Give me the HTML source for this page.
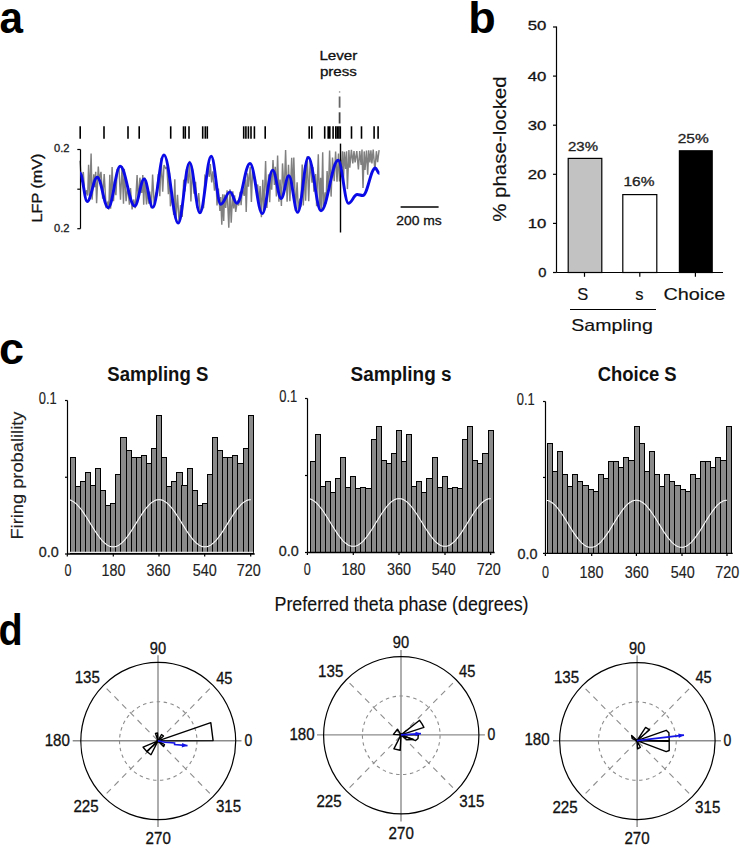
<!DOCTYPE html>
<html><head><meta charset="utf-8"><style>
html,body{margin:0;padding:0;background:#fff;}
body{width:740px;height:845px;overflow:hidden;}
svg{display:block;font-family:"Liberation Sans", sans-serif;}
</style></head><body>
<svg width="740" height="845" viewBox="0 0 740 845">
<rect width="740" height="845" fill="#fff"/>
<text x="-0.6" y="32.8" font-size="45" text-anchor="start" fill="#000" font-weight="bold" textLength="23.5" lengthAdjust="spacingAndGlyphs" >a</text>
<text x="468.2" y="32.8" font-size="45" text-anchor="start" fill="#000" font-weight="bold" >b</text>
<text x="-1.1" y="363.8" font-size="45" text-anchor="start" fill="#000" font-weight="bold" >c</text>
<text x="-1.4" y="644.9" font-size="45" text-anchor="start" fill="#000" font-weight="bold" textLength="24.2" lengthAdjust="spacingAndGlyphs" >d</text>
<line x1="80.20" y1="126.30" x2="80.20" y2="138.70" stroke="#000" stroke-width="1.6" />
<line x1="104.00" y1="126.30" x2="104.00" y2="138.70" stroke="#000" stroke-width="1.6" />
<line x1="128.00" y1="126.30" x2="128.00" y2="138.70" stroke="#000" stroke-width="1.6" />
<line x1="139.20" y1="126.30" x2="139.20" y2="138.70" stroke="#000" stroke-width="1.6" />
<line x1="170.70" y1="126.30" x2="170.70" y2="138.70" stroke="#000" stroke-width="1.6" />
<line x1="183.50" y1="126.30" x2="183.50" y2="138.70" stroke="#000" stroke-width="1.6" />
<line x1="185.30" y1="126.30" x2="185.30" y2="138.70" stroke="#000" stroke-width="1.6" />
<line x1="189.00" y1="126.30" x2="189.00" y2="138.70" stroke="#000" stroke-width="1.6" />
<line x1="202.70" y1="126.30" x2="202.70" y2="138.70" stroke="#000" stroke-width="1.6" />
<line x1="205.30" y1="126.30" x2="205.30" y2="138.70" stroke="#000" stroke-width="1.6" />
<line x1="207.30" y1="126.30" x2="207.30" y2="138.70" stroke="#000" stroke-width="1.6" />
<line x1="243.70" y1="126.30" x2="243.70" y2="138.70" stroke="#000" stroke-width="1.6" />
<line x1="245.90" y1="126.30" x2="245.90" y2="138.70" stroke="#000" stroke-width="1.6" />
<line x1="248.40" y1="126.30" x2="248.40" y2="138.70" stroke="#000" stroke-width="1.6" />
<line x1="251.00" y1="126.30" x2="251.00" y2="138.70" stroke="#000" stroke-width="1.6" />
<line x1="254.40" y1="126.30" x2="254.40" y2="138.70" stroke="#000" stroke-width="1.6" />
<line x1="265.20" y1="126.30" x2="265.20" y2="138.70" stroke="#000" stroke-width="1.6" />
<line x1="309.20" y1="126.30" x2="309.20" y2="138.70" stroke="#000" stroke-width="1.6" />
<line x1="311.80" y1="126.30" x2="311.80" y2="138.70" stroke="#000" stroke-width="1.6" />
<line x1="324.70" y1="126.30" x2="324.70" y2="138.70" stroke="#000" stroke-width="1.6" />
<line x1="328.20" y1="126.30" x2="328.20" y2="138.70" stroke="#000" stroke-width="1.6" />
<line x1="329.80" y1="126.30" x2="329.80" y2="138.70" stroke="#000" stroke-width="1.6" />
<line x1="333.10" y1="126.30" x2="333.10" y2="138.70" stroke="#000" stroke-width="1.6" />
<line x1="335.80" y1="126.30" x2="335.80" y2="138.70" stroke="#000" stroke-width="1.6" />
<line x1="337.30" y1="126.30" x2="337.30" y2="138.70" stroke="#000" stroke-width="1.6" />
<line x1="338.90" y1="126.30" x2="338.90" y2="138.70" stroke="#000" stroke-width="1.6" />
<line x1="340.30" y1="126.30" x2="340.30" y2="138.70" stroke="#000" stroke-width="1.6" />
<line x1="351.50" y1="126.30" x2="351.50" y2="138.70" stroke="#000" stroke-width="1.6" />
<line x1="361.50" y1="126.30" x2="361.50" y2="138.70" stroke="#000" stroke-width="1.6" />
<line x1="374.10" y1="126.30" x2="374.10" y2="138.70" stroke="#000" stroke-width="1.6" />
<line x1="378.10" y1="126.30" x2="378.10" y2="138.70" stroke="#000" stroke-width="1.6" />
<path d="M80.0,160.8 L81.5,182.1 L83.3,172.0 L85.0,197.5 L86.3,190.3 L87.7,195.5 L88.6,164.7 L89.7,198.3 L91.1,153.4 L92.1,199.6 L93.8,174.2 L94.7,187.2 L95.7,171.8 L96.6,203.2 L98.3,166.5 L99.3,180.1 L101.0,171.8 L102.7,198.7 L104.2,174.1 L106.0,206.0 L107.7,202.6 L108.8,209.6 L109.8,174.7 L110.6,208.7 L112.1,167.0 L113.5,201.3 L114.6,181.4 L115.9,195.3 L117.2,169.9 L118.1,170.1 L118.9,166.4 L120.5,199.7 L122.1,166.4 L123.5,203.7 L124.3,168.9 L126.1,201.1 L127.7,186.1 L129.4,204.8 L130.5,188.1 L132.1,209.5 L133.7,199.5 L135.3,208.1 L137.1,175.0 L138.2,200.9 L139.9,177.7 L141.7,193.0 L142.8,175.1 L143.7,204.8 L144.7,177.7 L146.5,204.5 L147.3,187.3 L148.7,203.7 L149.7,191.5 L151.3,208.1 L152.6,174.5 L154.3,206.7 L155.6,194.7 L156.5,196.8 L158.3,174.1 L159.8,196.2 L161.1,157.8 L162.7,191.7 L164.0,165.0 L165.6,168.4 L166.9,167.4 L168.4,194.3 L169.5,172.7 L170.4,206.3 L172.2,196.8 L173.7,215.0 L174.8,179.3 L175.9,220.0 L177.5,194.9 L179.1,222.5 L180.6,205.1 L182.2,216.9 L183.7,179.7 L185.0,191.5 L186.5,169.0 L188.2,183.5 L189.6,160.9 L190.9,201.5 L192.4,168.5 L194.0,193.6 L195.6,181.9 L197.1,207.9 L198.7,193.1 L200.3,213.6 L201.8,208.3 L203.6,207.6 L204.9,176.1 L206.5,178.7 L207.8,168.3 L209.3,176.8 L210.3,164.1 L211.7,182.5 L212.9,171.4 L214.5,190.7 L216.0,178.2 L217.0,205.5 L218.4,188.5 L219.9,211.0 L220.7,197.1 L221.8,224.7 L222.7,194.2 L223.7,221.0 L224.5,194.5 L225.7,208.0 L227.1,190.3 L228.8,227.7 L230.0,189.3 L231.2,222.7 L232.8,191.3 L233.7,208.5 L234.6,195.2 L235.7,211.9 L237.5,200.5 L238.7,205.5 L240.1,191.7 L241.1,205.3 L242.4,187.7 L244.2,195.9 L245.4,179.3 L246.2,212.0 L247.5,173.3 L248.5,186.7 L250.2,166.8 L251.4,201.9 L252.5,171.4 L253.7,174.9 L255.4,178.6 L256.4,190.9 L257.7,184.5 L258.9,205.0 L260.1,186.1 L261.4,217.1 L262.8,179.8 L263.9,211.4 L265.6,161.1 L266.9,207.9 L268.6,174.3 L269.7,202.2 L270.6,173.6 L271.7,189.7 L273.0,160.0 L274.4,184.9 L275.3,166.8 L276.4,196.4 L277.6,155.4 L278.9,201.7 L280.0,179.5 L281.4,206.0 L282.5,163.4 L284.2,193.8 L285.6,150.0 L287.1,201.8 L288.5,164.9 L289.9,201.1 L291.7,157.7 L292.8,195.9 L293.8,157.5 L295.5,210.9 L297.1,182.2 L298.3,209.8 L299.9,198.5 L300.9,206.8 L302.2,164.6 L303.3,205.4 L304.7,165.5 L305.6,200.7 L307.2,156.3 L308.7,201.2 L310.2,159.9 L312.0,182.7 L312.9,167.1 L313.9,191.8 L315.6,174.1 L316.6,206.3 L318.3,154.2 L319.7,210.6 L320.6,177.8 L321.5,210.1 L322.7,152.3 L323.5,206.1 L325.1,192.4 L326.0,203.8 L327.1,171.0 L328.4,192.1 L329.6,150.4 L331.1,196.6 L332.5,157.5 L334.2,181.1 L335.6,151.5 L337.0,181.6 L338.5,153.6 L339.5,181.5 L340.6,159.7 L341.6,167.6 L342.5,151.2 L343.4,182.7 L344.4,151.7 L345.7,169.0 L346.6,151.3 L347.4,189.1 L348.9,150.1 L349.8,167.7 L351.4,149.8 L352.8,163.4 L354.0,151.0 L355.1,162.4 L356.8,151.1 L358.4,169.5 L359.7,151.0 L361.1,165.0 L362.0,149.6 L363.0,188.0 L364.2,151.4 L365.0,169.9 L366.5,150.6 L367.7,174.8 L368.7,150.4 L369.9,162.5 L370.9,150.2 L371.9,163.4 L373.2,149.6 L374.9,170.4 L376.4,151.2 L377.6,162.2 L379.1,150.2" fill="none" stroke="#808080" stroke-width="1.45"/>
<line x1="80.50" y1="149.50" x2="80.50" y2="228.70" stroke="#000" stroke-width="1.2" />
<line x1="77.30" y1="149.50" x2="80.50" y2="149.50" stroke="#000" stroke-width="1.2" />
<line x1="77.30" y1="189.20" x2="80.50" y2="189.20" stroke="#000" stroke-width="1.2" />
<line x1="77.30" y1="228.70" x2="80.50" y2="228.70" stroke="#000" stroke-width="1.2" />
<text x="69.5" y="152.0" font-size="10.5" text-anchor="end" fill="#222" stroke="#222" stroke-width="0.3" textLength="15.5" lengthAdjust="spacingAndGlyphs" >0.2</text>
<text x="69.5" y="232.3" font-size="10.5" text-anchor="end" fill="#222" stroke="#222" stroke-width="0.3" textLength="15.5" lengthAdjust="spacingAndGlyphs" >0.2</text>
<text x="41.6" y="188.0" font-size="14" text-anchor="middle" fill="#111" stroke="#111" stroke-width="0.3" textLength="69" lengthAdjust="spacingAndGlyphs" transform="rotate(-90 41.6 188.0)" >LFP (mV)</text>
<line x1="339.60" y1="91.20" x2="339.60" y2="92.70" stroke="#999" stroke-width="1.4" />
<line x1="339.60" y1="96.50" x2="339.60" y2="107.70" stroke="#666" stroke-width="1.8" />
<line x1="339.60" y1="112.30" x2="339.60" y2="123.50" stroke="#444" stroke-width="1.8" />
<line x1="340.50" y1="143.60" x2="340.50" y2="232.50" stroke="#000" stroke-width="1.4" />
<path d="M80.0,173.0 C82.7,173.0 84.5,201.5 87.2,201.5 C91.0,201.5 93.4,177.2 97.2,177.2 C101.4,177.2 104.0,207.7 108.2,207.7 C112.8,207.7 115.6,166.3 120.2,166.3 C125.7,166.3 129.2,206.0 134.7,206.0 C138.3,206.0 140.6,179.0 144.2,179.0 C147.4,179.0 149.5,207.4 152.7,207.4 C157.0,207.4 159.7,155.0 164.0,155.0 C169.4,155.0 172.8,223.1 178.2,223.1 C182.5,223.1 185.3,162.6 189.6,162.6 C193.5,162.6 196.0,212.7 199.9,212.7 C204.2,212.7 206.9,156.3 211.2,156.3 C214.8,156.3 217.1,204.2 220.7,204.2 C224.3,204.2 226.5,191.9 230.1,191.9 C232.6,191.9 234.3,203.2 236.8,203.2 C241.8,203.2 245.0,163.5 250.0,163.5 C254.7,163.5 257.6,213.6 262.3,213.6 C266.3,213.6 268.7,170.1 272.7,170.1 C275.9,170.1 278.0,198.5 281.2,198.5 C284.1,198.5 285.9,175.8 288.8,175.8 C292.2,175.8 294.3,212.3 297.7,212.3 C301.7,212.3 304.3,157.5 308.3,157.5 C313.1,157.5 316.2,210.7 321.0,210.7 C327.5,210.7 331.7,160.2 338.2,160.2 C342.1,160.2 344.5,203.3 348.4,203.3 C351.7,203.3 353.9,194.5 357.2,194.5 C359.3,194.5 360.7,195.5 362.8,195.5 C367.6,195.5 370.6,168.0 375.4,168.0 C376.9,168.0 377.9,173.6 379.4,173.6" fill="none" stroke="#0a0ae6" stroke-width="2.9" stroke-linejoin="round"/>
<text x="338.4" y="59.9" font-size="13" text-anchor="middle" fill="#111" stroke="#111" stroke-width="0.3" textLength="38" lengthAdjust="spacingAndGlyphs" >Lever</text>
<text x="338.4" y="75.8" font-size="13" text-anchor="middle" fill="#111" stroke="#111" stroke-width="0.3" textLength="37" lengthAdjust="spacingAndGlyphs" >press</text>
<line x1="400.60" y1="207.00" x2="438.60" y2="207.00" stroke="#000" stroke-width="1.3" />
<text x="419.0" y="224.9" font-size="13.5" text-anchor="middle" fill="#111" stroke="#111" stroke-width="0.3" textLength="45.5" lengthAdjust="spacingAndGlyphs" >200 ms</text>
<line x1="556.50" y1="26.50" x2="556.50" y2="272.50" stroke="#000" stroke-width="1.2" />
<line x1="556.50" y1="272.50" x2="723.00" y2="272.50" stroke="#000" stroke-width="1.2" />
<line x1="553.00" y1="272.50" x2="556.50" y2="272.50" stroke="#000" stroke-width="1.2" />
<text x="546.4" y="277.2" font-size="13.3" text-anchor="end" fill="#111" stroke="#111" stroke-width="0.3" textLength="8.2" lengthAdjust="spacingAndGlyphs" >0</text>
<line x1="553.00" y1="223.40" x2="556.50" y2="223.40" stroke="#000" stroke-width="1.2" />
<text x="546.4" y="228.1" font-size="13.3" text-anchor="end" fill="#111" stroke="#111" stroke-width="0.3" textLength="18.6" lengthAdjust="spacingAndGlyphs" >10</text>
<line x1="553.00" y1="174.30" x2="556.50" y2="174.30" stroke="#000" stroke-width="1.2" />
<text x="546.4" y="179.0" font-size="13.3" text-anchor="end" fill="#111" stroke="#111" stroke-width="0.3" textLength="18.6" lengthAdjust="spacingAndGlyphs" >20</text>
<line x1="553.00" y1="125.20" x2="556.50" y2="125.20" stroke="#000" stroke-width="1.2" />
<text x="546.4" y="129.9" font-size="13.3" text-anchor="end" fill="#111" stroke="#111" stroke-width="0.3" textLength="18.6" lengthAdjust="spacingAndGlyphs" >30</text>
<line x1="553.00" y1="76.10" x2="556.50" y2="76.10" stroke="#000" stroke-width="1.2" />
<text x="546.4" y="80.8" font-size="13.3" text-anchor="end" fill="#111" stroke="#111" stroke-width="0.3" textLength="18.6" lengthAdjust="spacingAndGlyphs" >40</text>
<line x1="553.00" y1="27.00" x2="556.50" y2="27.00" stroke="#000" stroke-width="1.2" />
<text x="546.4" y="29.9" font-size="13.3" text-anchor="end" fill="#111" stroke="#111" stroke-width="0.3" textLength="18.6" lengthAdjust="spacingAndGlyphs" >50</text>
<line x1="584.50" y1="272.50" x2="584.50" y2="276.80" stroke="#000" stroke-width="1.2" />
<line x1="639.80" y1="272.50" x2="639.80" y2="276.80" stroke="#000" stroke-width="1.2" />
<line x1="695.40" y1="272.50" x2="695.40" y2="276.80" stroke="#000" stroke-width="1.2" />
<rect x="568.2" y="158.4" width="33.6" height="114.1" fill="#c2c2c2" stroke="#000" stroke-width="1.2"/>
<rect x="622.8" y="194.6" width="34" height="77.9" fill="#fff" stroke="#000" stroke-width="1.2"/>
<rect x="679.4" y="150.8" width="32.8" height="121.7" fill="#000" stroke="#000" stroke-width="1.2"/>
<text x="583.0" y="150.8" font-size="12.5" text-anchor="middle" fill="#222" stroke="#222" stroke-width="0.3" textLength="30" lengthAdjust="spacingAndGlyphs" >23%</text>
<text x="639.0" y="186.0" font-size="12.5" text-anchor="middle" fill="#222" stroke="#222" stroke-width="0.3" textLength="31" lengthAdjust="spacingAndGlyphs" >16%</text>
<text x="693.2" y="142.5" font-size="12.5" text-anchor="middle" fill="#222" stroke="#222" stroke-width="0.3" textLength="31" lengthAdjust="spacingAndGlyphs" >25%</text>
<text x="582.7" y="300.0" font-size="16.5" text-anchor="middle" fill="#111" stroke="#111" stroke-width="0.15" >S</text>
<text x="639.3" y="300.0" font-size="16.5" text-anchor="middle" fill="#111" stroke="#111" stroke-width="0.15" >s</text>
<text x="694.3" y="300.0" font-size="16.5" text-anchor="middle" fill="#111" stroke="#111" stroke-width="0.15" textLength="61.8" lengthAdjust="spacingAndGlyphs" >Choice</text>
<line x1="570.00" y1="309.50" x2="656.00" y2="309.50" stroke="#000" stroke-width="1.1" />
<text x="612.1" y="330.7" font-size="16.5" text-anchor="middle" fill="#111" stroke="#111" stroke-width="0.15" textLength="81.6" lengthAdjust="spacingAndGlyphs" >Sampling</text>
<text x="506.3" y="149.0" font-size="19" text-anchor="middle" fill="#111" stroke="#111" stroke-width="0.15" textLength="145.5" lengthAdjust="spacingAndGlyphs" transform="rotate(-90 506.3 149.0)" >% phase-locked</text>
<rect x="70.10" y="457.2" width="5.09" height="95.8" fill="#8a8a8a" stroke="#000" stroke-width="1" shape-rendering="crispEdges"/>
<rect x="75.19" y="486.2" width="5.09" height="66.8" fill="#8a8a8a" stroke="#000" stroke-width="1" shape-rendering="crispEdges"/>
<rect x="80.27" y="481.5" width="5.09" height="71.5" fill="#8a8a8a" stroke="#000" stroke-width="1" shape-rendering="crispEdges"/>
<rect x="85.36" y="472.8" width="5.09" height="80.2" fill="#8a8a8a" stroke="#000" stroke-width="1" shape-rendering="crispEdges"/>
<rect x="90.44" y="485.7" width="5.09" height="67.3" fill="#8a8a8a" stroke="#000" stroke-width="1" shape-rendering="crispEdges"/>
<rect x="95.53" y="468.8" width="5.09" height="84.2" fill="#8a8a8a" stroke="#000" stroke-width="1" shape-rendering="crispEdges"/>
<rect x="100.62" y="490.0" width="5.09" height="63.0" fill="#8a8a8a" stroke="#000" stroke-width="1" shape-rendering="crispEdges"/>
<rect x="105.70" y="505.9" width="5.09" height="47.1" fill="#8a8a8a" stroke="#000" stroke-width="1" shape-rendering="crispEdges"/>
<rect x="110.79" y="503.1" width="5.09" height="49.9" fill="#8a8a8a" stroke="#000" stroke-width="1" shape-rendering="crispEdges"/>
<rect x="115.88" y="474.5" width="5.09" height="78.5" fill="#8a8a8a" stroke="#000" stroke-width="1" shape-rendering="crispEdges"/>
<rect x="120.96" y="437.4" width="5.09" height="115.6" fill="#8a8a8a" stroke="#000" stroke-width="1" shape-rendering="crispEdges"/>
<rect x="126.05" y="450.2" width="5.09" height="102.8" fill="#8a8a8a" stroke="#000" stroke-width="1" shape-rendering="crispEdges"/>
<rect x="131.13" y="457.8" width="5.09" height="95.2" fill="#8a8a8a" stroke="#000" stroke-width="1" shape-rendering="crispEdges"/>
<rect x="136.22" y="457.8" width="5.09" height="95.2" fill="#8a8a8a" stroke="#000" stroke-width="1" shape-rendering="crispEdges"/>
<rect x="141.31" y="455.9" width="5.09" height="97.1" fill="#8a8a8a" stroke="#000" stroke-width="1" shape-rendering="crispEdges"/>
<rect x="146.39" y="463.3" width="5.09" height="89.7" fill="#8a8a8a" stroke="#000" stroke-width="1" shape-rendering="crispEdges"/>
<rect x="151.48" y="448.8" width="5.09" height="104.2" fill="#8a8a8a" stroke="#000" stroke-width="1" shape-rendering="crispEdges"/>
<rect x="156.56" y="415.8" width="5.09" height="137.2" fill="#8a8a8a" stroke="#000" stroke-width="1" shape-rendering="crispEdges"/>
<rect x="161.65" y="457.2" width="5.09" height="95.8" fill="#8a8a8a" stroke="#000" stroke-width="1" shape-rendering="crispEdges"/>
<rect x="166.74" y="486.2" width="5.09" height="66.8" fill="#8a8a8a" stroke="#000" stroke-width="1" shape-rendering="crispEdges"/>
<rect x="171.82" y="481.5" width="5.09" height="71.5" fill="#8a8a8a" stroke="#000" stroke-width="1" shape-rendering="crispEdges"/>
<rect x="176.91" y="472.8" width="5.09" height="80.2" fill="#8a8a8a" stroke="#000" stroke-width="1" shape-rendering="crispEdges"/>
<rect x="181.99" y="485.7" width="5.09" height="67.3" fill="#8a8a8a" stroke="#000" stroke-width="1" shape-rendering="crispEdges"/>
<rect x="187.08" y="468.8" width="5.09" height="84.2" fill="#8a8a8a" stroke="#000" stroke-width="1" shape-rendering="crispEdges"/>
<rect x="192.17" y="490.0" width="5.09" height="63.0" fill="#8a8a8a" stroke="#000" stroke-width="1" shape-rendering="crispEdges"/>
<rect x="197.25" y="505.9" width="5.09" height="47.1" fill="#8a8a8a" stroke="#000" stroke-width="1" shape-rendering="crispEdges"/>
<rect x="202.34" y="503.1" width="5.09" height="49.9" fill="#8a8a8a" stroke="#000" stroke-width="1" shape-rendering="crispEdges"/>
<rect x="207.43" y="474.5" width="5.09" height="78.5" fill="#8a8a8a" stroke="#000" stroke-width="1" shape-rendering="crispEdges"/>
<rect x="212.51" y="437.4" width="5.09" height="115.6" fill="#8a8a8a" stroke="#000" stroke-width="1" shape-rendering="crispEdges"/>
<rect x="217.60" y="450.2" width="5.09" height="102.8" fill="#8a8a8a" stroke="#000" stroke-width="1" shape-rendering="crispEdges"/>
<rect x="222.68" y="457.8" width="5.09" height="95.2" fill="#8a8a8a" stroke="#000" stroke-width="1" shape-rendering="crispEdges"/>
<rect x="227.77" y="457.8" width="5.09" height="95.2" fill="#8a8a8a" stroke="#000" stroke-width="1" shape-rendering="crispEdges"/>
<rect x="232.86" y="455.9" width="5.09" height="97.1" fill="#8a8a8a" stroke="#000" stroke-width="1" shape-rendering="crispEdges"/>
<rect x="237.94" y="463.3" width="5.09" height="89.7" fill="#8a8a8a" stroke="#000" stroke-width="1" shape-rendering="crispEdges"/>
<rect x="243.03" y="448.8" width="5.09" height="104.2" fill="#8a8a8a" stroke="#000" stroke-width="1" shape-rendering="crispEdges"/>
<rect x="248.11" y="415.8" width="5.09" height="137.2" fill="#8a8a8a" stroke="#000" stroke-width="1" shape-rendering="crispEdges"/>
<path d="M67.3,499.6 L68.3,499.7 L69.3,499.9 L70.4,500.1 L71.4,500.5 L72.4,501.1 L73.4,501.7 L74.4,502.4 L75.5,503.2 L76.5,504.1 L77.5,505.2 L78.5,506.3 L79.5,507.4 L80.5,508.7 L81.6,510.0 L82.6,511.4 L83.6,512.9 L84.6,514.4 L85.6,516.0 L86.7,517.5 L87.7,519.2 L88.7,520.8 L89.7,522.4 L90.7,524.1 L91.8,525.7 L92.8,527.4 L93.8,529.0 L94.8,530.6 L95.8,532.1 L96.8,533.6 L97.9,535.1 L98.9,536.5 L99.9,537.8 L100.9,539.1 L101.9,540.3 L103.0,541.4 L104.0,542.4 L105.0,543.3 L106.0,544.1 L107.0,544.9 L108.1,545.5 L109.1,546.0 L110.1,546.4 L111.1,546.7 L112.1,546.8 L113.1,546.9 L114.2,546.8 L115.2,546.7 L116.2,546.4 L117.2,546.0 L118.2,545.5 L119.3,544.9 L120.3,544.1 L121.3,543.3 L122.3,542.4 L123.3,541.4 L124.4,540.3 L125.4,539.1 L126.4,537.8 L127.4,536.5 L128.4,535.1 L129.5,533.6 L130.5,532.1 L131.5,530.6 L132.5,529.0 L133.5,527.4 L134.5,525.7 L135.6,524.1 L136.6,522.4 L137.6,520.8 L138.6,519.2 L139.6,517.5 L140.7,516.0 L141.7,514.4 L142.7,512.9 L143.7,511.4 L144.7,510.0 L145.8,508.7 L146.8,507.4 L147.8,506.3 L148.8,505.2 L149.8,504.1 L150.8,503.2 L151.9,502.4 L152.9,501.7 L153.9,501.1 L154.9,500.5 L155.9,500.1 L157.0,499.9 L158.0,499.7 L159.0,499.6 L160.0,499.7 L161.0,499.9 L162.1,500.1 L163.1,500.5 L164.1,501.1 L165.1,501.7 L166.1,502.4 L167.2,503.2 L168.2,504.1 L169.2,505.2 L170.2,506.3 L171.2,507.4 L172.2,508.7 L173.3,510.0 L174.3,511.4 L175.3,512.9 L176.3,514.4 L177.3,516.0 L178.4,517.5 L179.4,519.2 L180.4,520.8 L181.4,522.4 L182.4,524.1 L183.5,525.7 L184.5,527.4 L185.5,529.0 L186.5,530.6 L187.5,532.1 L188.5,533.6 L189.6,535.1 L190.6,536.5 L191.6,537.8 L192.6,539.1 L193.6,540.3 L194.7,541.4 L195.7,542.4 L196.7,543.3 L197.7,544.1 L198.7,544.9 L199.8,545.5 L200.8,546.0 L201.8,546.4 L202.8,546.7 L203.8,546.8 L204.8,546.9 L205.9,546.8 L206.9,546.7 L207.9,546.4 L208.9,546.0 L209.9,545.5 L211.0,544.9 L212.0,544.1 L213.0,543.3 L214.0,542.4 L215.0,541.4 L216.1,540.3 L217.1,539.1 L218.1,537.8 L219.1,536.5 L220.1,535.1 L221.2,533.6 L222.2,532.1 L223.2,530.6 L224.2,529.0 L225.2,527.4 L226.2,525.7 L227.3,524.1 L228.3,522.4 L229.3,520.8 L230.3,519.2 L231.3,517.5 L232.4,516.0 L233.4,514.4 L234.4,512.9 L235.4,511.4 L236.4,510.0 L237.5,508.7 L238.5,507.4 L239.5,506.3 L240.5,505.2 L241.5,504.1 L242.5,503.2 L243.6,502.4 L244.6,501.7 L245.6,501.1 L246.6,500.5 L247.6,500.1 L248.7,499.9 L249.7,499.7 L250.7,499.6" fill="none" stroke="#fff" stroke-width="1.1"/>
<line x1="68.10" y1="552.40" x2="253.20" y2="552.40" stroke="#e8e8e8" stroke-width="1.2" />
<line x1="67.50" y1="400.50" x2="67.50" y2="554.00" stroke="#000" stroke-width="1.2" />
<line x1="67.50" y1="554.00" x2="254.70" y2="554.00" stroke="#000" stroke-width="1.3" />
<line x1="65.00" y1="400.50" x2="67.50" y2="400.50" stroke="#000" stroke-width="1.2" />
<line x1="65.00" y1="477.25" x2="67.50" y2="477.25" stroke="#000" stroke-width="1.2" />
<line x1="65.00" y1="554.00" x2="67.50" y2="554.00" stroke="#000" stroke-width="1.2" />
<line x1="67.30" y1="554.00" x2="67.30" y2="556.50" stroke="#000" stroke-width="1.2" />
<line x1="113.30" y1="554.00" x2="113.30" y2="556.50" stroke="#000" stroke-width="1.2" />
<line x1="159.00" y1="554.00" x2="159.00" y2="556.50" stroke="#000" stroke-width="1.2" />
<line x1="204.70" y1="554.00" x2="204.70" y2="556.50" stroke="#000" stroke-width="1.2" />
<line x1="250.70" y1="554.00" x2="250.70" y2="556.50" stroke="#000" stroke-width="1.2" />
<text x="56.8" y="403.5" font-size="16.5" text-anchor="end" fill="#222" stroke="#222" stroke-width="0.15" textLength="18" lengthAdjust="spacingAndGlyphs" >0.1</text>
<text x="58.8" y="557.1" font-size="15.5" text-anchor="end" fill="#222" stroke="#222" stroke-width="0.3" textLength="20" lengthAdjust="spacingAndGlyphs" >0.0</text>
<text x="68.0" y="575.7" font-size="16.3" text-anchor="middle" fill="#222" stroke="#222" stroke-width="0.15" textLength="7" lengthAdjust="spacingAndGlyphs" >0</text>
<text x="113.6" y="575.7" font-size="16.3" text-anchor="middle" fill="#222" stroke="#222" stroke-width="0.15" textLength="24" lengthAdjust="spacingAndGlyphs" >180</text>
<text x="158.6" y="575.7" font-size="16.3" text-anchor="middle" fill="#222" stroke="#222" stroke-width="0.15" textLength="24" lengthAdjust="spacingAndGlyphs" >360</text>
<text x="204.8" y="575.7" font-size="16.3" text-anchor="middle" fill="#222" stroke="#222" stroke-width="0.15" textLength="24" lengthAdjust="spacingAndGlyphs" >540</text>
<text x="248.8" y="575.7" font-size="16.3" text-anchor="middle" fill="#222" stroke="#222" stroke-width="0.15" textLength="24" lengthAdjust="spacingAndGlyphs" >720</text>
<text x="157.8" y="380.8" font-size="19.5" text-anchor="middle" fill="#111" font-weight="bold" textLength="101" lengthAdjust="spacingAndGlyphs" >Sampling S</text>
<rect x="310.00" y="461.6" width="5.09" height="90.9" fill="#8a8a8a" stroke="#000" stroke-width="1" shape-rendering="crispEdges"/>
<rect x="315.09" y="434.8" width="5.09" height="117.7" fill="#8a8a8a" stroke="#000" stroke-width="1" shape-rendering="crispEdges"/>
<rect x="320.17" y="486.3" width="5.09" height="66.2" fill="#8a8a8a" stroke="#000" stroke-width="1" shape-rendering="crispEdges"/>
<rect x="325.26" y="481.8" width="5.09" height="70.7" fill="#8a8a8a" stroke="#000" stroke-width="1" shape-rendering="crispEdges"/>
<rect x="330.34" y="492.0" width="5.09" height="60.5" fill="#8a8a8a" stroke="#000" stroke-width="1" shape-rendering="crispEdges"/>
<rect x="335.43" y="478.7" width="5.09" height="73.8" fill="#8a8a8a" stroke="#000" stroke-width="1" shape-rendering="crispEdges"/>
<rect x="340.52" y="457.8" width="5.09" height="94.7" fill="#8a8a8a" stroke="#000" stroke-width="1" shape-rendering="crispEdges"/>
<rect x="345.60" y="487.8" width="5.09" height="64.7" fill="#8a8a8a" stroke="#000" stroke-width="1" shape-rendering="crispEdges"/>
<rect x="350.69" y="476.1" width="5.09" height="76.4" fill="#8a8a8a" stroke="#000" stroke-width="1" shape-rendering="crispEdges"/>
<rect x="355.77" y="488.9" width="5.09" height="63.6" fill="#8a8a8a" stroke="#000" stroke-width="1" shape-rendering="crispEdges"/>
<rect x="360.86" y="487.7" width="5.09" height="64.8" fill="#8a8a8a" stroke="#000" stroke-width="1" shape-rendering="crispEdges"/>
<rect x="365.95" y="488.9" width="5.09" height="63.6" fill="#8a8a8a" stroke="#000" stroke-width="1" shape-rendering="crispEdges"/>
<rect x="371.03" y="439.2" width="5.09" height="113.3" fill="#8a8a8a" stroke="#000" stroke-width="1" shape-rendering="crispEdges"/>
<rect x="376.12" y="426.5" width="5.09" height="126.0" fill="#8a8a8a" stroke="#000" stroke-width="1" shape-rendering="crispEdges"/>
<rect x="381.21" y="460.6" width="5.09" height="91.9" fill="#8a8a8a" stroke="#000" stroke-width="1" shape-rendering="crispEdges"/>
<rect x="386.29" y="463.6" width="5.09" height="88.9" fill="#8a8a8a" stroke="#000" stroke-width="1" shape-rendering="crispEdges"/>
<rect x="391.38" y="453.6" width="5.09" height="98.9" fill="#8a8a8a" stroke="#000" stroke-width="1" shape-rendering="crispEdges"/>
<rect x="396.46" y="430.4" width="5.09" height="122.1" fill="#8a8a8a" stroke="#000" stroke-width="1" shape-rendering="crispEdges"/>
<rect x="401.55" y="461.6" width="5.09" height="90.9" fill="#8a8a8a" stroke="#000" stroke-width="1" shape-rendering="crispEdges"/>
<rect x="406.64" y="434.8" width="5.09" height="117.7" fill="#8a8a8a" stroke="#000" stroke-width="1" shape-rendering="crispEdges"/>
<rect x="411.72" y="486.3" width="5.09" height="66.2" fill="#8a8a8a" stroke="#000" stroke-width="1" shape-rendering="crispEdges"/>
<rect x="416.81" y="481.8" width="5.09" height="70.7" fill="#8a8a8a" stroke="#000" stroke-width="1" shape-rendering="crispEdges"/>
<rect x="421.89" y="492.0" width="5.09" height="60.5" fill="#8a8a8a" stroke="#000" stroke-width="1" shape-rendering="crispEdges"/>
<rect x="426.98" y="478.7" width="5.09" height="73.8" fill="#8a8a8a" stroke="#000" stroke-width="1" shape-rendering="crispEdges"/>
<rect x="432.07" y="457.8" width="5.09" height="94.7" fill="#8a8a8a" stroke="#000" stroke-width="1" shape-rendering="crispEdges"/>
<rect x="437.15" y="487.8" width="5.09" height="64.7" fill="#8a8a8a" stroke="#000" stroke-width="1" shape-rendering="crispEdges"/>
<rect x="442.24" y="476.1" width="5.09" height="76.4" fill="#8a8a8a" stroke="#000" stroke-width="1" shape-rendering="crispEdges"/>
<rect x="447.33" y="488.9" width="5.09" height="63.6" fill="#8a8a8a" stroke="#000" stroke-width="1" shape-rendering="crispEdges"/>
<rect x="452.41" y="487.7" width="5.09" height="64.8" fill="#8a8a8a" stroke="#000" stroke-width="1" shape-rendering="crispEdges"/>
<rect x="457.50" y="488.9" width="5.09" height="63.6" fill="#8a8a8a" stroke="#000" stroke-width="1" shape-rendering="crispEdges"/>
<rect x="462.58" y="439.2" width="5.09" height="113.3" fill="#8a8a8a" stroke="#000" stroke-width="1" shape-rendering="crispEdges"/>
<rect x="467.67" y="426.5" width="5.09" height="126.0" fill="#8a8a8a" stroke="#000" stroke-width="1" shape-rendering="crispEdges"/>
<rect x="472.76" y="460.6" width="5.09" height="91.9" fill="#8a8a8a" stroke="#000" stroke-width="1" shape-rendering="crispEdges"/>
<rect x="477.84" y="463.6" width="5.09" height="88.9" fill="#8a8a8a" stroke="#000" stroke-width="1" shape-rendering="crispEdges"/>
<rect x="482.93" y="453.6" width="5.09" height="98.9" fill="#8a8a8a" stroke="#000" stroke-width="1" shape-rendering="crispEdges"/>
<rect x="488.01" y="430.4" width="5.09" height="122.1" fill="#8a8a8a" stroke="#000" stroke-width="1" shape-rendering="crispEdges"/>
<path d="M307.4,498.6 L308.4,498.7 L309.4,498.8 L310.5,499.1 L311.5,499.5 L312.5,500.0 L313.5,500.7 L314.5,501.4 L315.5,502.2 L316.6,503.2 L317.6,504.2 L318.6,505.3 L319.6,506.5 L320.6,507.8 L321.7,509.1 L322.7,510.5 L323.7,512.0 L324.7,513.5 L325.7,515.1 L326.7,516.7 L327.8,518.3 L328.8,520.0 L329.8,521.6 L330.8,523.3 L331.8,525.0 L332.9,526.6 L333.9,528.2 L334.9,529.8 L335.9,531.4 L336.9,532.9 L337.9,534.4 L339.0,535.8 L340.0,537.2 L341.0,538.4 L342.0,539.6 L343.0,540.8 L344.1,541.8 L345.1,542.7 L346.1,543.5 L347.1,544.3 L348.1,544.9 L349.2,545.4 L350.2,545.8 L351.2,546.1 L352.2,546.3 L353.2,546.3 L354.2,546.3 L355.3,546.1 L356.3,545.8 L357.3,545.4 L358.3,544.9 L359.3,544.3 L360.4,543.5 L361.4,542.7 L362.4,541.8 L363.4,540.8 L364.4,539.6 L365.4,538.4 L366.5,537.2 L367.5,535.8 L368.5,534.4 L369.5,532.9 L370.5,531.4 L371.6,529.8 L372.6,528.2 L373.6,526.6 L374.6,525.0 L375.6,523.3 L376.6,521.6 L377.7,520.0 L378.7,518.3 L379.7,516.7 L380.7,515.1 L381.7,513.5 L382.8,512.0 L383.8,510.5 L384.8,509.1 L385.8,507.8 L386.8,506.5 L387.8,505.3 L388.9,504.2 L389.9,503.2 L390.9,502.2 L391.9,501.4 L392.9,500.7 L394.0,500.0 L395.0,499.5 L396.0,499.1 L397.0,498.8 L398.0,498.7 L399.0,498.6 L400.1,498.7 L401.1,498.8 L402.1,499.1 L403.1,499.5 L404.1,500.0 L405.2,500.7 L406.2,501.4 L407.2,502.2 L408.2,503.2 L409.2,504.2 L410.3,505.3 L411.3,506.5 L412.3,507.8 L413.3,509.1 L414.3,510.5 L415.3,512.0 L416.4,513.5 L417.4,515.1 L418.4,516.7 L419.4,518.3 L420.4,520.0 L421.5,521.6 L422.5,523.3 L423.5,525.0 L424.5,526.6 L425.5,528.2 L426.5,529.8 L427.6,531.4 L428.6,532.9 L429.6,534.4 L430.6,535.8 L431.6,537.2 L432.7,538.4 L433.7,539.6 L434.7,540.8 L435.7,541.8 L436.7,542.7 L437.7,543.5 L438.8,544.3 L439.8,544.9 L440.8,545.4 L441.8,545.8 L442.8,546.1 L443.9,546.3 L444.9,546.3 L445.9,546.3 L446.9,546.1 L447.9,545.8 L448.9,545.4 L450.0,544.9 L451.0,544.3 L452.0,543.5 L453.0,542.7 L454.0,541.8 L455.1,540.8 L456.1,539.6 L457.1,538.4 L458.1,537.2 L459.1,535.8 L460.1,534.4 L461.2,532.9 L462.2,531.4 L463.2,529.8 L464.2,528.2 L465.2,526.6 L466.3,525.0 L467.3,523.3 L468.3,521.6 L469.3,520.0 L470.3,518.3 L471.4,516.7 L472.4,515.1 L473.4,513.5 L474.4,512.0 L475.4,510.5 L476.4,509.1 L477.5,507.8 L478.5,506.5 L479.5,505.3 L480.5,504.2 L481.5,503.2 L482.6,502.2 L483.6,501.4 L484.6,500.7 L485.6,500.0 L486.6,499.5 L487.6,499.1 L488.7,498.8 L489.7,498.7 L490.7,498.6" fill="none" stroke="#fff" stroke-width="1.1"/>
<line x1="307.50" y1="398.50" x2="307.50" y2="552.50" stroke="#000" stroke-width="1.2" />
<line x1="307.50" y1="552.50" x2="494.60" y2="552.50" stroke="#000" stroke-width="1.3" />
<line x1="305.00" y1="398.50" x2="307.50" y2="398.50" stroke="#000" stroke-width="1.2" />
<line x1="305.00" y1="475.50" x2="307.50" y2="475.50" stroke="#000" stroke-width="1.2" />
<line x1="305.00" y1="552.50" x2="307.50" y2="552.50" stroke="#000" stroke-width="1.2" />
<line x1="307.40" y1="552.50" x2="307.40" y2="555.00" stroke="#000" stroke-width="1.2" />
<line x1="353.30" y1="552.50" x2="353.30" y2="555.00" stroke="#000" stroke-width="1.2" />
<line x1="399.00" y1="552.50" x2="399.00" y2="555.00" stroke="#000" stroke-width="1.2" />
<line x1="445.00" y1="552.50" x2="445.00" y2="555.00" stroke="#000" stroke-width="1.2" />
<line x1="490.70" y1="552.50" x2="490.70" y2="555.00" stroke="#000" stroke-width="1.2" />
<text x="297.2" y="401.9" font-size="16.5" text-anchor="end" fill="#222" stroke="#222" stroke-width="0.15" textLength="18" lengthAdjust="spacingAndGlyphs" >0.1</text>
<text x="298.8" y="556.2" font-size="15.5" text-anchor="end" fill="#222" stroke="#222" stroke-width="0.3" textLength="20" lengthAdjust="spacingAndGlyphs" >0.0</text>
<text x="307.3" y="574.8" font-size="16.3" text-anchor="middle" fill="#222" stroke="#222" stroke-width="0.15" textLength="7" lengthAdjust="spacingAndGlyphs" >0</text>
<text x="353.5" y="574.8" font-size="16.3" text-anchor="middle" fill="#222" stroke="#222" stroke-width="0.15" textLength="24" lengthAdjust="spacingAndGlyphs" >180</text>
<text x="399.0" y="574.8" font-size="16.3" text-anchor="middle" fill="#222" stroke="#222" stroke-width="0.15" textLength="24" lengthAdjust="spacingAndGlyphs" >360</text>
<text x="443.7" y="574.8" font-size="16.3" text-anchor="middle" fill="#222" stroke="#222" stroke-width="0.15" textLength="24" lengthAdjust="spacingAndGlyphs" >540</text>
<text x="488.8" y="574.8" font-size="16.3" text-anchor="middle" fill="#222" stroke="#222" stroke-width="0.15" textLength="24" lengthAdjust="spacingAndGlyphs" >720</text>
<text x="401.0" y="380.8" font-size="19.5" text-anchor="middle" fill="#111" font-weight="bold" textLength="101" lengthAdjust="spacingAndGlyphs" >Sampling s</text>
<rect x="547.20" y="443.1" width="5.11" height="110.3" fill="#8a8a8a" stroke="#000" stroke-width="1" shape-rendering="crispEdges"/>
<rect x="552.31" y="471.4" width="5.11" height="82.0" fill="#8a8a8a" stroke="#000" stroke-width="1" shape-rendering="crispEdges"/>
<rect x="557.42" y="451.9" width="5.11" height="101.5" fill="#8a8a8a" stroke="#000" stroke-width="1" shape-rendering="crispEdges"/>
<rect x="562.53" y="474.4" width="5.11" height="79.0" fill="#8a8a8a" stroke="#000" stroke-width="1" shape-rendering="crispEdges"/>
<rect x="567.64" y="486.0" width="5.11" height="67.4" fill="#8a8a8a" stroke="#000" stroke-width="1" shape-rendering="crispEdges"/>
<rect x="572.76" y="474.4" width="5.11" height="79.0" fill="#8a8a8a" stroke="#000" stroke-width="1" shape-rendering="crispEdges"/>
<rect x="577.87" y="481.4" width="5.11" height="72.0" fill="#8a8a8a" stroke="#000" stroke-width="1" shape-rendering="crispEdges"/>
<rect x="582.98" y="485.7" width="5.11" height="67.7" fill="#8a8a8a" stroke="#000" stroke-width="1" shape-rendering="crispEdges"/>
<rect x="588.09" y="489.9" width="5.11" height="63.5" fill="#8a8a8a" stroke="#000" stroke-width="1" shape-rendering="crispEdges"/>
<rect x="593.20" y="491.9" width="5.11" height="61.5" fill="#8a8a8a" stroke="#000" stroke-width="1" shape-rendering="crispEdges"/>
<rect x="598.31" y="474.4" width="5.11" height="79.0" fill="#8a8a8a" stroke="#000" stroke-width="1" shape-rendering="crispEdges"/>
<rect x="603.42" y="478.8" width="5.11" height="74.6" fill="#8a8a8a" stroke="#000" stroke-width="1" shape-rendering="crispEdges"/>
<rect x="608.53" y="461.7" width="5.11" height="91.7" fill="#8a8a8a" stroke="#000" stroke-width="1" shape-rendering="crispEdges"/>
<rect x="613.64" y="461.7" width="5.11" height="91.7" fill="#8a8a8a" stroke="#000" stroke-width="1" shape-rendering="crispEdges"/>
<rect x="618.76" y="467.4" width="5.11" height="86.0" fill="#8a8a8a" stroke="#000" stroke-width="1" shape-rendering="crispEdges"/>
<rect x="623.87" y="457.2" width="5.11" height="96.2" fill="#8a8a8a" stroke="#000" stroke-width="1" shape-rendering="crispEdges"/>
<rect x="628.98" y="460.3" width="5.11" height="93.1" fill="#8a8a8a" stroke="#000" stroke-width="1" shape-rendering="crispEdges"/>
<rect x="634.09" y="426.4" width="5.11" height="127.0" fill="#8a8a8a" stroke="#000" stroke-width="1" shape-rendering="crispEdges"/>
<rect x="639.20" y="443.1" width="5.11" height="110.3" fill="#8a8a8a" stroke="#000" stroke-width="1" shape-rendering="crispEdges"/>
<rect x="644.31" y="471.4" width="5.11" height="82.0" fill="#8a8a8a" stroke="#000" stroke-width="1" shape-rendering="crispEdges"/>
<rect x="649.42" y="451.9" width="5.11" height="101.5" fill="#8a8a8a" stroke="#000" stroke-width="1" shape-rendering="crispEdges"/>
<rect x="654.53" y="474.4" width="5.11" height="79.0" fill="#8a8a8a" stroke="#000" stroke-width="1" shape-rendering="crispEdges"/>
<rect x="659.64" y="486.0" width="5.11" height="67.4" fill="#8a8a8a" stroke="#000" stroke-width="1" shape-rendering="crispEdges"/>
<rect x="664.76" y="474.4" width="5.11" height="79.0" fill="#8a8a8a" stroke="#000" stroke-width="1" shape-rendering="crispEdges"/>
<rect x="669.87" y="481.4" width="5.11" height="72.0" fill="#8a8a8a" stroke="#000" stroke-width="1" shape-rendering="crispEdges"/>
<rect x="674.98" y="485.7" width="5.11" height="67.7" fill="#8a8a8a" stroke="#000" stroke-width="1" shape-rendering="crispEdges"/>
<rect x="680.09" y="489.9" width="5.11" height="63.5" fill="#8a8a8a" stroke="#000" stroke-width="1" shape-rendering="crispEdges"/>
<rect x="685.20" y="491.9" width="5.11" height="61.5" fill="#8a8a8a" stroke="#000" stroke-width="1" shape-rendering="crispEdges"/>
<rect x="690.31" y="474.4" width="5.11" height="79.0" fill="#8a8a8a" stroke="#000" stroke-width="1" shape-rendering="crispEdges"/>
<rect x="695.42" y="478.8" width="5.11" height="74.6" fill="#8a8a8a" stroke="#000" stroke-width="1" shape-rendering="crispEdges"/>
<rect x="700.53" y="461.7" width="5.11" height="91.7" fill="#8a8a8a" stroke="#000" stroke-width="1" shape-rendering="crispEdges"/>
<rect x="705.64" y="461.7" width="5.11" height="91.7" fill="#8a8a8a" stroke="#000" stroke-width="1" shape-rendering="crispEdges"/>
<rect x="710.76" y="467.4" width="5.11" height="86.0" fill="#8a8a8a" stroke="#000" stroke-width="1" shape-rendering="crispEdges"/>
<rect x="715.87" y="457.2" width="5.11" height="96.2" fill="#8a8a8a" stroke="#000" stroke-width="1" shape-rendering="crispEdges"/>
<rect x="720.98" y="460.3" width="5.11" height="93.1" fill="#8a8a8a" stroke="#000" stroke-width="1" shape-rendering="crispEdges"/>
<rect x="726.09" y="426.4" width="5.11" height="127.0" fill="#8a8a8a" stroke="#000" stroke-width="1" shape-rendering="crispEdges"/>
<path d="M545.4,500.2 L546.4,500.3 L547.4,500.5 L548.4,500.7 L549.4,501.1 L550.4,501.7 L551.5,502.3 L552.5,503.0 L553.5,503.8 L554.5,504.7 L555.5,505.7 L556.5,506.8 L557.5,508.0 L558.5,509.3 L559.5,510.6 L560.5,512.0 L561.5,513.5 L562.6,515.0 L563.6,516.5 L564.6,518.1 L565.6,519.7 L566.6,521.3 L567.6,523.0 L568.6,524.6 L569.6,526.2 L570.6,527.9 L571.6,529.5 L572.6,531.1 L573.6,532.6 L574.7,534.1 L575.7,535.6 L576.7,536.9 L577.7,538.3 L578.7,539.5 L579.7,540.7 L580.7,541.8 L581.7,542.8 L582.7,543.7 L583.7,544.6 L584.7,545.3 L585.8,545.9 L586.8,546.4 L587.8,546.8 L588.8,547.1 L589.8,547.3 L590.8,547.3 L591.8,547.3 L592.8,547.1 L593.8,546.8 L594.8,546.4 L595.8,545.9 L596.9,545.3 L597.9,544.6 L598.9,543.7 L599.9,542.8 L600.9,541.8 L601.9,540.7 L602.9,539.5 L603.9,538.3 L604.9,536.9 L605.9,535.6 L606.9,534.1 L608.0,532.6 L609.0,531.1 L610.0,529.5 L611.0,527.9 L612.0,526.2 L613.0,524.6 L614.0,523.0 L615.0,521.3 L616.0,519.7 L617.0,518.1 L618.0,516.5 L619.0,515.0 L620.1,513.5 L621.1,512.0 L622.1,510.6 L623.1,509.3 L624.1,508.0 L625.1,506.8 L626.1,505.7 L627.1,504.7 L628.1,503.8 L629.1,503.0 L630.1,502.3 L631.2,501.7 L632.2,501.1 L633.2,500.7 L634.2,500.5 L635.2,500.3 L636.2,500.2 L637.2,500.3 L638.2,500.5 L639.2,500.7 L640.2,501.1 L641.2,501.7 L642.3,502.3 L643.3,503.0 L644.3,503.8 L645.3,504.7 L646.3,505.7 L647.3,506.8 L648.3,508.0 L649.3,509.3 L650.3,510.6 L651.3,512.0 L652.3,513.5 L653.4,515.0 L654.4,516.5 L655.4,518.1 L656.4,519.7 L657.4,521.3 L658.4,523.0 L659.4,524.6 L660.4,526.2 L661.4,527.9 L662.4,529.5 L663.4,531.1 L664.4,532.6 L665.5,534.1 L666.5,535.6 L667.5,536.9 L668.5,538.3 L669.5,539.5 L670.5,540.7 L671.5,541.8 L672.5,542.8 L673.5,543.7 L674.5,544.6 L675.5,545.3 L676.6,545.9 L677.6,546.4 L678.6,546.8 L679.6,547.1 L680.6,547.3 L681.6,547.3 L682.6,547.3 L683.6,547.1 L684.6,546.8 L685.6,546.4 L686.6,545.9 L687.7,545.3 L688.7,544.6 L689.7,543.7 L690.7,542.8 L691.7,541.8 L692.7,540.7 L693.7,539.5 L694.7,538.3 L695.7,536.9 L696.7,535.6 L697.7,534.1 L698.8,532.6 L699.8,531.1 L700.8,529.5 L701.8,527.9 L702.8,526.2 L703.8,524.6 L704.8,523.0 L705.8,521.3 L706.8,519.7 L707.8,518.1 L708.8,516.5 L709.8,515.0 L710.9,513.5 L711.9,512.0 L712.9,510.6 L713.9,509.3 L714.9,508.0 L715.9,506.8 L716.9,505.7 L717.9,504.7 L718.9,503.8 L719.9,503.0 L720.9,502.3 L722.0,501.7 L723.0,501.1 L724.0,500.7 L725.0,500.5 L726.0,500.3 L727.0,500.2" fill="none" stroke="#fff" stroke-width="1.1"/>
<line x1="545.50" y1="401.50" x2="545.50" y2="553.40" stroke="#000" stroke-width="1.2" />
<line x1="545.50" y1="553.40" x2="732.70" y2="553.40" stroke="#000" stroke-width="1.3" />
<line x1="543.00" y1="401.50" x2="545.50" y2="401.50" stroke="#000" stroke-width="1.2" />
<line x1="543.00" y1="477.45" x2="545.50" y2="477.45" stroke="#000" stroke-width="1.2" />
<line x1="543.00" y1="553.40" x2="545.50" y2="553.40" stroke="#000" stroke-width="1.2" />
<line x1="545.40" y1="553.40" x2="545.40" y2="555.90" stroke="#000" stroke-width="1.2" />
<line x1="591.70" y1="553.40" x2="591.70" y2="555.90" stroke="#000" stroke-width="1.2" />
<line x1="636.40" y1="553.40" x2="636.40" y2="555.90" stroke="#000" stroke-width="1.2" />
<line x1="682.00" y1="553.40" x2="682.00" y2="555.90" stroke="#000" stroke-width="1.2" />
<line x1="727.00" y1="553.40" x2="727.00" y2="555.90" stroke="#000" stroke-width="1.2" />
<text x="534.8" y="404.9" font-size="16.5" text-anchor="end" fill="#222" stroke="#222" stroke-width="0.15" textLength="18" lengthAdjust="spacingAndGlyphs" >0.1</text>
<text x="537.6" y="559.0" font-size="15.5" text-anchor="end" fill="#222" stroke="#222" stroke-width="0.3" textLength="20" lengthAdjust="spacingAndGlyphs" >0.0</text>
<text x="545.5" y="577.5" font-size="16.3" text-anchor="middle" fill="#222" stroke="#222" stroke-width="0.15" textLength="7" lengthAdjust="spacingAndGlyphs" >0</text>
<text x="591.6" y="577.5" font-size="16.3" text-anchor="middle" fill="#222" stroke="#222" stroke-width="0.15" textLength="24" lengthAdjust="spacingAndGlyphs" >180</text>
<text x="636.8" y="577.5" font-size="16.3" text-anchor="middle" fill="#222" stroke="#222" stroke-width="0.15" textLength="24" lengthAdjust="spacingAndGlyphs" >360</text>
<text x="682.7" y="577.5" font-size="16.3" text-anchor="middle" fill="#222" stroke="#222" stroke-width="0.15" textLength="24" lengthAdjust="spacingAndGlyphs" >540</text>
<text x="727.3" y="577.5" font-size="16.3" text-anchor="middle" fill="#222" stroke="#222" stroke-width="0.15" textLength="24" lengthAdjust="spacingAndGlyphs" >720</text>
<text x="637.2" y="380.8" font-size="19.5" text-anchor="middle" fill="#111" font-weight="bold" textLength="79" lengthAdjust="spacingAndGlyphs" >Choice S</text>
<text x="23.1" y="475.6" font-size="17" text-anchor="middle" fill="#222" stroke="#222" stroke-width="0.15" textLength="128" lengthAdjust="spacingAndGlyphs" transform="rotate(-90 23.1 475.6)" >Firing probalility</text>
<text x="401.5" y="610.6" font-size="19.8" text-anchor="middle" fill="#111" stroke="#111" stroke-width="0.15" textLength="254" lengthAdjust="spacingAndGlyphs" >Preferred theta phase (degrees)</text>
<line x1="72.70" y1="740.70" x2="241.50" y2="740.70" stroke="#8c8c8c" stroke-width="1.4" />
<line x1="158.00" y1="655.30" x2="158.00" y2="826.90" stroke="#8c8c8c" stroke-width="1.4" />
<line x1="159.31" y1="739.94" x2="213.02" y2="685.42" stroke="#8c8c8c" stroke-width="1.1" stroke-dasharray="6 5"/>
<line x1="157.19" y1="739.94" x2="103.48" y2="685.42" stroke="#8c8c8c" stroke-width="1.1" stroke-dasharray="6 5"/>
<line x1="157.19" y1="742.06" x2="103.48" y2="796.58" stroke="#8c8c8c" stroke-width="1.1" stroke-dasharray="6 5"/>
<line x1="159.31" y1="742.06" x2="213.02" y2="796.58" stroke="#8c8c8c" stroke-width="1.1" stroke-dasharray="6 5"/>
<ellipse cx="158.25" cy="741.0" rx="38.73" ry="39.30" fill="none" stroke="#8c8c8c" stroke-width="1.1" stroke-dasharray="3.5 3.5"/>
<ellipse cx="158.25" cy="741.0" rx="77.45" ry="78.6" fill="none" stroke="#000" stroke-width="1.2"/>
<path d="M158,740.9 L213.1,740.6 L210.8,722.6 Z" fill="none" stroke="#000" stroke-width="1.4" stroke-linejoin="round"/>
<path d="M158,740.9 L143.1,747.2 L146.8,751.5 Z" fill="none" stroke="#000" stroke-width="1.4" stroke-linejoin="round"/>
<path d="M158,740.9 L146.8,751.5 L151,754.7 Z" fill="none" stroke="#000" stroke-width="1.4" stroke-linejoin="round"/>
<path d="M158,740.9 L155.5,733.5 L157.5,733 Z" fill="none" stroke="#000" stroke-width="1.4" stroke-linejoin="round"/>
<path d="M158,740.9 L161.5,734.5 L163.5,736 Z" fill="none" stroke="#000" stroke-width="1.4" stroke-linejoin="round"/>
<path d="M158,740.9 L164.5,744.5 L163.6,746.6 Z" fill="none" stroke="#000" stroke-width="1.4" stroke-linejoin="round"/>
<circle cx="158" cy="740.9" r="1.8" fill="#000"/>
<polyline points="158,740.9 165.1,742.2 174.6,742.9 174.6,744.6 187.5,745.6" fill="none" stroke="#1414e6" stroke-width="1.6"/>
<path d="M187.5,745.6 L182.2,743.0 L181.8,747.4 Z" fill="#1414e6"/>
<text x="158.0" y="653.6" font-size="15.8" text-anchor="middle" fill="#111" stroke="#111" stroke-width="0.3" textLength="16.3" lengthAdjust="spacingAndGlyphs" >90</text>
<text x="224.3" y="683.5" font-size="15.8" text-anchor="middle" fill="#111" stroke="#111" stroke-width="0.3" textLength="16.3" lengthAdjust="spacingAndGlyphs" >45</text>
<text x="87.3" y="682.6" font-size="15.8" text-anchor="middle" fill="#111" stroke="#111" stroke-width="0.3" textLength="25.2" lengthAdjust="spacingAndGlyphs" >135</text>
<text x="57.3" y="746.0" font-size="15.8" text-anchor="middle" fill="#111" stroke="#111" stroke-width="0.3" textLength="25.2" lengthAdjust="spacingAndGlyphs" >180</text>
<text x="248.5" y="745.5" font-size="15.8" text-anchor="middle" fill="#111" stroke="#111" stroke-width="0.3" textLength="7.8" lengthAdjust="spacingAndGlyphs" >0</text>
<text x="86.0" y="811.8" font-size="15.8" text-anchor="middle" fill="#111" stroke="#111" stroke-width="0.3" textLength="25.2" lengthAdjust="spacingAndGlyphs" >225</text>
<text x="228.5" y="811.8" font-size="15.8" text-anchor="middle" fill="#111" stroke="#111" stroke-width="0.3" textLength="25.2" lengthAdjust="spacingAndGlyphs" >315</text>
<text x="158.2" y="843.9" font-size="15.8" text-anchor="middle" fill="#111" stroke="#111" stroke-width="0.3" textLength="25.2" lengthAdjust="spacingAndGlyphs" >270</text>
<line x1="317.00" y1="734.90" x2="484.90" y2="734.90" stroke="#8c8c8c" stroke-width="1.4" />
<line x1="401.00" y1="650.10" x2="401.00" y2="821.60" stroke="#8c8c8c" stroke-width="1.4" />
<line x1="402.31" y1="734.24" x2="456.16" y2="679.72" stroke="#8c8c8c" stroke-width="1.1" stroke-dasharray="6 5"/>
<line x1="400.19" y1="734.24" x2="346.34" y2="679.72" stroke="#8c8c8c" stroke-width="1.1" stroke-dasharray="6 5"/>
<line x1="400.19" y1="736.36" x2="346.34" y2="790.88" stroke="#8c8c8c" stroke-width="1.1" stroke-dasharray="6 5"/>
<line x1="402.31" y1="736.36" x2="456.16" y2="790.88" stroke="#8c8c8c" stroke-width="1.1" stroke-dasharray="6 5"/>
<ellipse cx="401.25" cy="735.3" rx="38.83" ry="39.30" fill="none" stroke="#8c8c8c" stroke-width="1.1" stroke-dasharray="3.5 3.5"/>
<ellipse cx="401.25" cy="735.3" rx="77.65" ry="78.6" fill="none" stroke="#000" stroke-width="1.2"/>
<path d="M401,734.9 L419.6,720.3 L422,723.8 L423.9,727.3 Z" fill="none" stroke="#000" stroke-width="1.4" stroke-linejoin="round"/>
<path d="M401,734.9 L418.3,734.6 L418,738.4 L415.6,740.6 Z" fill="none" stroke="#000" stroke-width="1.4" stroke-linejoin="round"/>
<path d="M401,734.9 L413.4,739.5 L406.9,739.8 Z" fill="none" stroke="#000" stroke-width="1.4" stroke-linejoin="round"/>
<path d="M401,734.9 L393.9,748.9 L400.2,750.3 Z" fill="none" stroke="#000" stroke-width="1.4" stroke-linejoin="round"/>
<path d="M401,734.9 L393.4,734.4 L397.5,729.2 Z" fill="none" stroke="#000" stroke-width="1.4" stroke-linejoin="round"/>
<circle cx="401" cy="734.9" r="1.8" fill="#000"/>
<polyline points="401,734.9 421,733.6" fill="none" stroke="#1414e6" stroke-width="1.6"/>
<path d="M421,733.6 L415.4,731.8 L415.7,736.2 Z" fill="#1414e6"/>
<text x="401.0" y="648.2" font-size="15.8" text-anchor="middle" fill="#111" stroke="#111" stroke-width="0.3" textLength="16.3" lengthAdjust="spacingAndGlyphs" >90</text>
<text x="467.2" y="677.4" font-size="15.8" text-anchor="middle" fill="#111" stroke="#111" stroke-width="0.3" textLength="16.3" lengthAdjust="spacingAndGlyphs" >45</text>
<text x="330.7" y="677.4" font-size="15.8" text-anchor="middle" fill="#111" stroke="#111" stroke-width="0.3" textLength="25.2" lengthAdjust="spacingAndGlyphs" >135</text>
<text x="302.0" y="739.9" font-size="15.8" text-anchor="middle" fill="#111" stroke="#111" stroke-width="0.3" textLength="25.2" lengthAdjust="spacingAndGlyphs" >180</text>
<text x="491.5" y="739.8" font-size="15.8" text-anchor="middle" fill="#111" stroke="#111" stroke-width="0.3" textLength="7.8" lengthAdjust="spacingAndGlyphs" >0</text>
<text x="329.0" y="806.9" font-size="15.8" text-anchor="middle" fill="#111" stroke="#111" stroke-width="0.3" textLength="25.2" lengthAdjust="spacingAndGlyphs" >225</text>
<text x="471.8" y="806.9" font-size="15.8" text-anchor="middle" fill="#111" stroke="#111" stroke-width="0.3" textLength="25.2" lengthAdjust="spacingAndGlyphs" >315</text>
<text x="401.2" y="838.5" font-size="15.8" text-anchor="middle" fill="#111" stroke="#111" stroke-width="0.3" textLength="25.2" lengthAdjust="spacingAndGlyphs" >270</text>
<line x1="553.00" y1="740.70" x2="720.90" y2="740.70" stroke="#8c8c8c" stroke-width="1.4" />
<line x1="637.10" y1="655.40" x2="637.10" y2="826.90" stroke="#8c8c8c" stroke-width="1.4" />
<line x1="638.41" y1="740.04" x2="692.33" y2="685.63" stroke="#8c8c8c" stroke-width="1.1" stroke-dasharray="6 5"/>
<line x1="636.29" y1="740.04" x2="582.37" y2="685.63" stroke="#8c8c8c" stroke-width="1.1" stroke-dasharray="6 5"/>
<line x1="636.29" y1="742.16" x2="582.37" y2="796.57" stroke="#8c8c8c" stroke-width="1.1" stroke-dasharray="6 5"/>
<line x1="638.41" y1="742.16" x2="692.33" y2="796.57" stroke="#8c8c8c" stroke-width="1.1" stroke-dasharray="6 5"/>
<ellipse cx="637.35" cy="741.1" rx="38.88" ry="39.23" fill="none" stroke="#8c8c8c" stroke-width="1.1" stroke-dasharray="3.5 3.5"/>
<ellipse cx="637.35" cy="741.1" rx="77.75" ry="78.45" fill="none" stroke="#000" stroke-width="1.2"/>
<path d="M637,740.6 L666.2,730.3 L668.9,732.7 L669.2,740.6 Z" fill="none" stroke="#000" stroke-width="1.4" stroke-linejoin="round"/>
<path d="M637,740.6 L669.2,741.2 L669.2,750.5 L666.2,751.6 Z" fill="none" stroke="#000" stroke-width="1.4" stroke-linejoin="round"/>
<path d="M637,740.6 L645.6,727.4 L649.6,729.8 Z" fill="none" stroke="#000" stroke-width="1.4" stroke-linejoin="round"/>
<path d="M637,740.6 L631.6,735.4 L632.2,738.6 Z" fill="none" stroke="#000" stroke-width="1.4" stroke-linejoin="round"/>
<path d="M637,740.6 L637.6,748.9 L640.3,747.3 Z" fill="none" stroke="#000" stroke-width="1.4" stroke-linejoin="round"/>
<circle cx="637" cy="740.6" r="1.8" fill="#000"/>
<polyline points="637,740.6 684,735.1" fill="none" stroke="#1414e6" stroke-width="1.6"/>
<path d="M684,735.1 L678.3,733.6 L678.8,737.9 Z" fill="#1414e6"/>
<text x="637.2" y="654.0" font-size="15.8" text-anchor="middle" fill="#111" stroke="#111" stroke-width="0.3" textLength="16.3" lengthAdjust="spacingAndGlyphs" >90</text>
<text x="703.6" y="682.9" font-size="15.8" text-anchor="middle" fill="#111" stroke="#111" stroke-width="0.3" textLength="16.3" lengthAdjust="spacingAndGlyphs" >45</text>
<text x="566.5" y="682.9" font-size="15.8" text-anchor="middle" fill="#111" stroke="#111" stroke-width="0.3" textLength="25.2" lengthAdjust="spacingAndGlyphs" >135</text>
<text x="537.0" y="745.3" font-size="15.8" text-anchor="middle" fill="#111" stroke="#111" stroke-width="0.3" textLength="25.2" lengthAdjust="spacingAndGlyphs" >180</text>
<text x="727.5" y="745.7" font-size="15.8" text-anchor="middle" fill="#111" stroke="#111" stroke-width="0.3" textLength="7.8" lengthAdjust="spacingAndGlyphs" >0</text>
<text x="565.0" y="812.6" font-size="15.8" text-anchor="middle" fill="#111" stroke="#111" stroke-width="0.3" textLength="25.2" lengthAdjust="spacingAndGlyphs" >225</text>
<text x="707.7" y="812.6" font-size="15.8" text-anchor="middle" fill="#111" stroke="#111" stroke-width="0.3" textLength="25.2" lengthAdjust="spacingAndGlyphs" >315</text>
<text x="637.0" y="844.0" font-size="15.8" text-anchor="middle" fill="#111" stroke="#111" stroke-width="0.3" textLength="25.2" lengthAdjust="spacingAndGlyphs" >270</text>
</svg>
</body></html>
